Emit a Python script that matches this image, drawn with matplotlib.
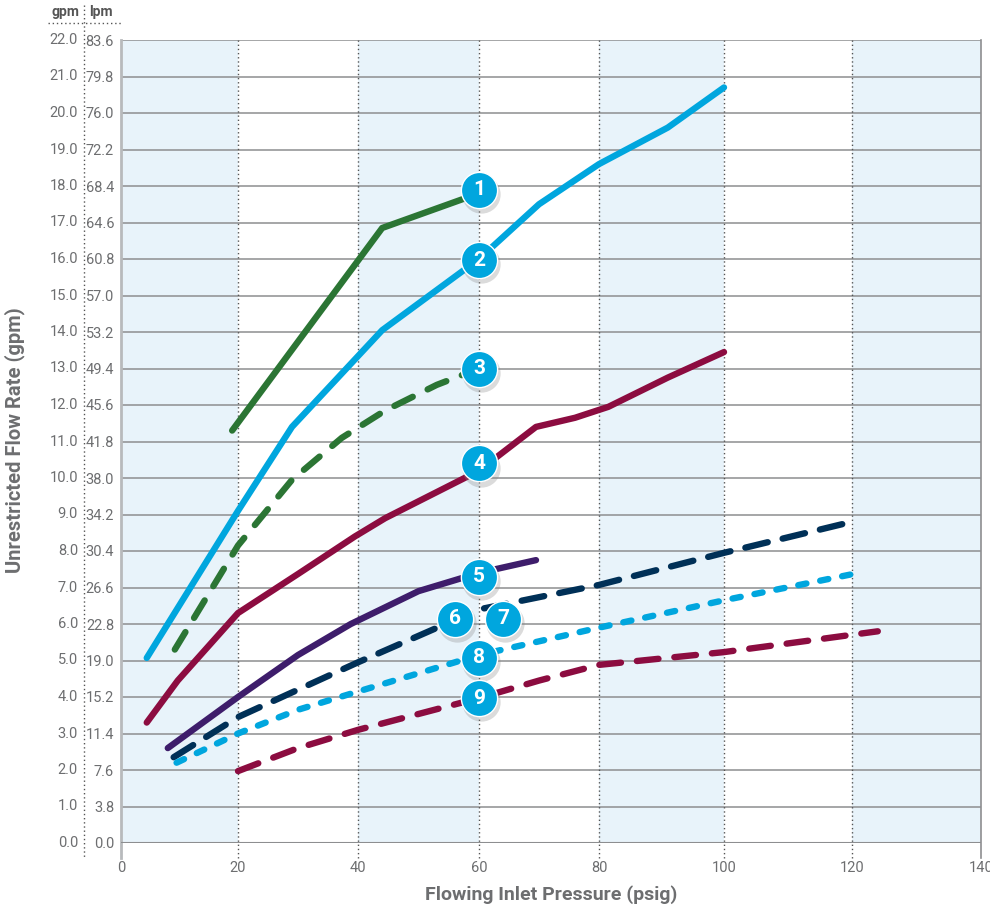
import matplotlib
matplotlib.use("Agg")
import numpy as np
import matplotlib.pyplot as plt
from matplotlib.lines import Line2D

plt.rcParams['font.family'] = ['Roboto', 'DejaVu Sans']

# ---- data ----
gpm_ticks = list(range(0, 23))
lpm_ticks = [round(g * 3.8, 1) for g in gpm_ticks]
x_ticks = [0, 20, 40, 60, 80, 100, 120, 140]

c1_x = [19, 44, 60]
c1_y = [11.3, 16.85, 17.8]

c2_x = [4.4, 20, 29, 44, 60, 70, 80, 91, 100]
c2_y = [5.07, 9.1, 11.4, 14.05, 16.0, 17.5, 18.6, 19.6, 20.7]

c3_x = [9.2, 20, 29, 37.3, 44.5, 53, 60]
c3_y = [5.3, 8.15, 9.95, 11.1, 11.85, 12.55, 13.0]

c4_x = [4.4, 9.7, 20, 30, 39.5, 44.5, 60, 69.5, 76, 81.5, 91, 100]
c4_y = [3.3, 4.45, 6.3, 7.37, 8.4, 8.9, 10.2, 11.4, 11.65, 11.95, 12.75, 13.45]

c5_x = [8, 20, 30, 38.8, 50, 60, 69.5]
c5_y = [2.6, 4.0, 5.15, 6.0, 6.9, 7.4, 7.75]

c67_x = [9, 20, 30, 40, 60, 80, 100, 120]
c67_y = [2.35, 3.45, 4.2, 4.95, 6.4, 7.07, 7.95, 8.8]

c8_x = [9.5, 20, 30, 40, 60, 80, 100, 121]
c8_y = [2.2, 3.0, 3.65, 4.15, 5.15, 5.9, 6.65, 7.4]

c9_x = [20, 30, 40, 60, 70, 80, 100, 124]
c9_y = [1.97, 2.6, 3.1, 3.97, 4.45, 4.88, 5.23, 5.8]

badge_text = ['1', '2', '3', '4', '5', '6', '7', '8', '9']
badge_x = [60, 60, 60, 60, 60, 56, 64, 60, 60]
badge_y = [17.9, 15.97, 13.0, 10.4, 7.3, 6.15, 6.15, 5.07, 3.97]

# the original x axis is not evenly spaced: where each tick sits (px from 0)
tick_pos = [0, 117, 237, 358, 478, 603, 731, 860]

GREEN = '#2b7534'
LBLUE = '#00a6de'
CRIMSON = '#8c0c40'
PURPLE = '#3e1d6b'
NAVY = '#003057'
GRAY = '#6d6e70'

def fwd(x):
    return np.interp(x, x_ticks, tick_pos)

def inv(p):
    return np.interp(p, tick_pos, x_ticks)

fig = plt.figure(figsize=(9.9, 9.07), dpi=100)
ax = fig.add_axes([121/990, 1 - 843/907, 860/990, 803/907])
ax.set_xscale('function', functions=(fwd, inv))
ax.set_xlim(0, 140)
ax.set_ylim(0, 22)

# alternating column shading
for i in range(0, 140, 20):
    color = '#e8f3fa' if (i // 20) % 2 == 0 else 'white'
    ax.axvspan(i, i + 20, color=color, zorder=0, lw=0)

# horizontal grid
for g in gpm_ticks:
    ax.axhline(g, color='#8d8e90', lw=1.1, zorder=1)

# vertical dotted grid, running below the axis
for xv in x_ticks[1:-1]:
    ax.plot([xv, xv], [-0.42, 22], ls=(0, (1, 2)), color='#555', lw=1,
            clip_on=False, zorder=1)
ax.plot([0, 0], [-0.42, 22], color='#b8babc', lw=2, clip_on=False, zorder=2)
ax.plot([140, 140], [-0.42, 22], color='#8d8e90', lw=1.2, clip_on=False, zorder=2)

for s in ax.spines.values():
    s.set_visible(False)
ax.axhline(0, color='#8d8e90', lw=1.5, zorder=2)

# curves
kw = dict(lw=4.6, solid_capstyle='round', dash_capstyle='round', zorder=3)
ax.plot(c1_x, c1_y, color=GREEN, **kw)
ax.plot(c2_x, c2_y, color=LBLUE, **kw)
ax.plot(c3_x, c3_y, color=GREEN, ls=(0, (3.2, 2.6)), **kw)
ax.plot(c4_x, c4_y, color=CRIMSON, **kw)
ax.plot(c5_x, c5_y, color=PURPLE, **kw)
ax.plot(c67_x, c67_y, color=NAVY, ls=(0, (3.6, 2.4)), **kw)
ax.plot(c8_x, c8_y, color=LBLUE, ls=(0, (1.3, 2.2)), **kw)
ax.plot(c9_x, c9_y, color=CRIMSON, ls=(0, (3.4, 2.5)), **kw)

# numbered badges
ax.scatter([x + 0.35 for x in badge_x], [y - 0.12 for y in badge_y], s=760,
           color='#888', alpha=0.3, lw=0, zorder=4)
ax.scatter(badge_x, badge_y, s=680, color=LBLUE, edgecolor='white', lw=1,
           zorder=5)
for t, x, y in zip(badge_text, badge_x, badge_y):
    ax.text(x, y, t, color='white', fontsize=15, fontweight='bold',
            ha='center', va='center', zorder=6)

# ticks
ax.set_xticks(x_ticks)
ax.set_xticklabels([str(v) for v in x_ticks], color=GRAY, fontsize=10.5)
ax.xaxis.set_minor_locator(plt.NullLocator())
ax.tick_params(axis='x', length=0, pad=13)
ax.set_yticks(gpm_ticks)
ax.set_yticklabels([f'{v:.1f}' for v in lpm_ticks], color=GRAY, fontsize=10.5)
ax.tick_params(axis='y', length=0, pad=5)
ytr = ax.get_yaxis_transform()
for g in gpm_ticks:
    ax.text(-43/860, g, f'{g:.1f}', transform=ytr, ha='right', va='center',
            color=GRAY, fontsize=10.5)

# column headers and separators
fig.text(65/990, 1 - 12/907, 'gpm', ha='center', va='center', fontsize=10,
         fontweight='bold', color='#555')
fig.text(101/990, 1 - 12/907, 'lpm', ha='center', va='center', fontsize=10,
         fontweight='bold', color='#555')
fig.add_artist(Line2D([84/990, 84/990], [1 - 5/907, 1 - 858/907],
                      ls=(0, (1, 2)), color='#555', lw=1))
fig.add_artist(Line2D([48/990, 121/990], [1 - 23/907, 1 - 23/907],
                      ls=(0, (1, 2)), color='#555', lw=1))

ax.set_xlabel('Flowing Inlet Pressure (psig)', fontsize=14, fontweight='bold',
              color=GRAY, labelpad=7)
fig.text(15/990, 1 - 440/907, 'Unrestricted Flow Rate (gpm)', rotation=90,
         ha='center', va='center', fontsize=14.5, fontweight='bold', color=GRAY)

fig.savefig('out.png', dpi=100)
